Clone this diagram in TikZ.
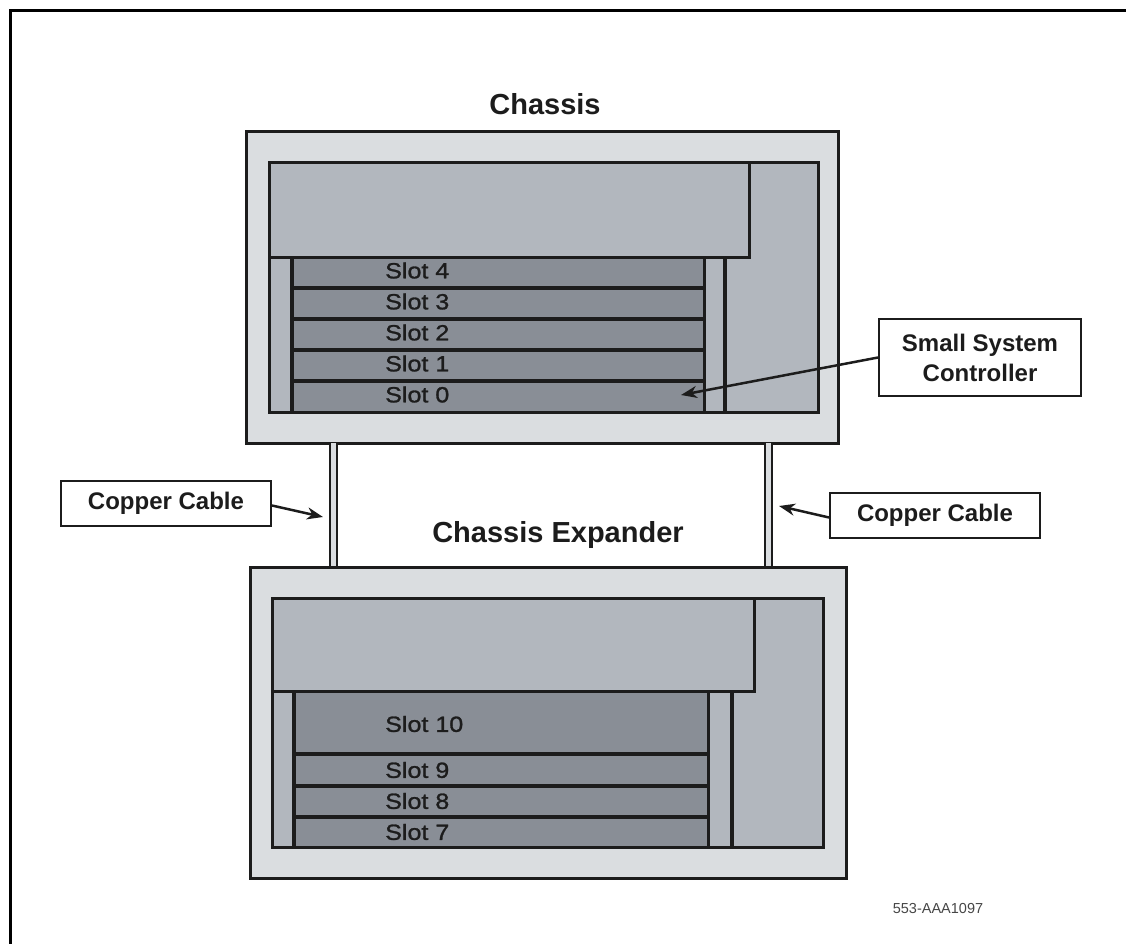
\documentclass[tikz,border=0pt]{standalone}
\usepackage{fontspec}
\setmainfont{Liberation Sans}
\newfontfamily\slotfont[FakeStretch=1.14,FakeBold=1.2]{Liberation Sans}
\usetikzlibrary{arrows.meta}
\definecolor{caseLight}{RGB}{218,221,224}
\definecolor{panelGray}{RGB}{178,183,190}
\definecolor{slotGray}{RGB}{137,142,150}
\definecolor{edgeDark}{RGB}{28,28,28}
\definecolor{idGray}{RGB}{70,70,70}
\tikzset{
  casebox/.style={draw=edgeDark, line width=3pt, fill=caseLight},
  panelbox/.style={draw=edgeDark, line width=3pt, fill=panelGray},
  slotbox/.style={draw=edgeDark, line width=3pt, fill=slotGray},
  sep/.style={draw=edgeDark, line width=3.5pt},
  slotlabel/.style={anchor=west, inner sep=0pt, font=\slotfont\fontsize{22}{26}\selectfont, text=edgeDark},
  titlelabel/.style={inner sep=0pt, font=\bfseries\fontsize{29}{34}\selectfont, text=edgeDark},
  callout/.style={draw=edgeDark, line width=2pt, fill=white, inner sep=0pt, font=\bfseries\fontsize{24}{30}\selectfont, text=edgeDark, align=center},
  pointer/.style={draw=edgeDark, line width=2.5pt, -{Stealth[length=16pt,width=12pt,inset=5pt]}},
  cableline/.style={draw=edgeDark, line width=2pt},
}
\begin{document}
\begin{tikzpicture}[x=1pt,y=-1pt]
\useasboundingbox (0,0) rectangle (1126,944);
% outer page frame (left and top edges visible)
\draw[black, line width=3pt] (10.5,944) -- (10.5,10.5) -- (1126,10.5);

% ---------- Chassis ----------
\node[titlelabel] (tchassis) at (545,104) {Chassis};
\draw[casebox] (246,132) rectangle (838,443);
\draw[panelbox] (269,163) rectangle (818,412);
\draw[panelbox] (269,163) rectangle (749,257);
\draw[slotbox] (292,257) rectangle (704,412);
\foreach \yy in {288,319,350,381} \draw[sep] (292,\yy) -- (704,\yy);
\draw[sep] (292,257) -- (292,412);
\draw[sep] (725,257) -- (725,412);
\node[slotlabel] (s4) at (385,270.5) {Slot 4};
\node[slotlabel] (s3) at (385,301.5) {Slot 3};
\node[slotlabel] (s2) at (385,332.5) {Slot 2};
\node[slotlabel] (s1) at (385,363.5) {Slot 1};
\node[slotlabel] (s0) at (385,394.5) {Slot 0};

% ---------- Cables ----------
\fill[caseLight] (330,443) rectangle (337,567);
\draw[cableline] (330,443) -- (330,567);
\draw[cableline] (337,443) -- (337,567);
\fill[caseLight] (765,443) rectangle (772,567);
\draw[cableline] (765,443) -- (765,567);
\draw[cableline] (772,443) -- (772,567);

% ---------- Chassis Expander ----------
\node[titlelabel] (texp) at (558,535) {Chassis Expander};
\draw[casebox] (250,567) rectangle (846,878);
\draw[panelbox] (272,598) rectangle (823,847);
\draw[panelbox] (272,598) rectangle (754,691);
\draw[slotbox] (294,691) rectangle (708,847);
\foreach \yy in {754,786,817} \draw[sep] (294,\yy) -- (708,\yy);
\draw[sep] (294,691) -- (294,847);
\draw[sep] (732,691) -- (732,847);
\node[slotlabel] (s10) at (385,724) {Slot 10};
\node[slotlabel] (s9) at (385,770) {Slot 9};
\node[slotlabel] (s8) at (385,801) {Slot 8};
\node[slotlabel] (s7) at (385,832) {Slot 7};

% ---------- Callouts ----------
\node[callout, minimum width=202pt, minimum height=77pt] (ssc) at (980,357.5) {Small System\\Controller};
\coordinate (ssctip) at (681,395);
\draw[pointer] (ssc.west) -- (ssctip);

\node[callout, minimum width=210pt, minimum height=45pt] (ccl) at (166,503.5) {Copper Cable};
\coordinate (ccltip) at (323,517);
\draw[pointer] (ccl.east) ++(0,2) -- (ccltip);

\node[callout, minimum width=210pt, minimum height=45pt] (ccr) at (935,515.5) {Copper Cable};
\coordinate (ccrtip) at (779,506);
\draw[pointer] (ccr.west) ++(0,2) -- (ccrtip);

\node[inner sep=0pt, font=\fontsize{14.5}{17}\selectfont, text=idGray] (fig) at (938,908) {553-AAA1097};
\end{tikzpicture}
\end{document}
